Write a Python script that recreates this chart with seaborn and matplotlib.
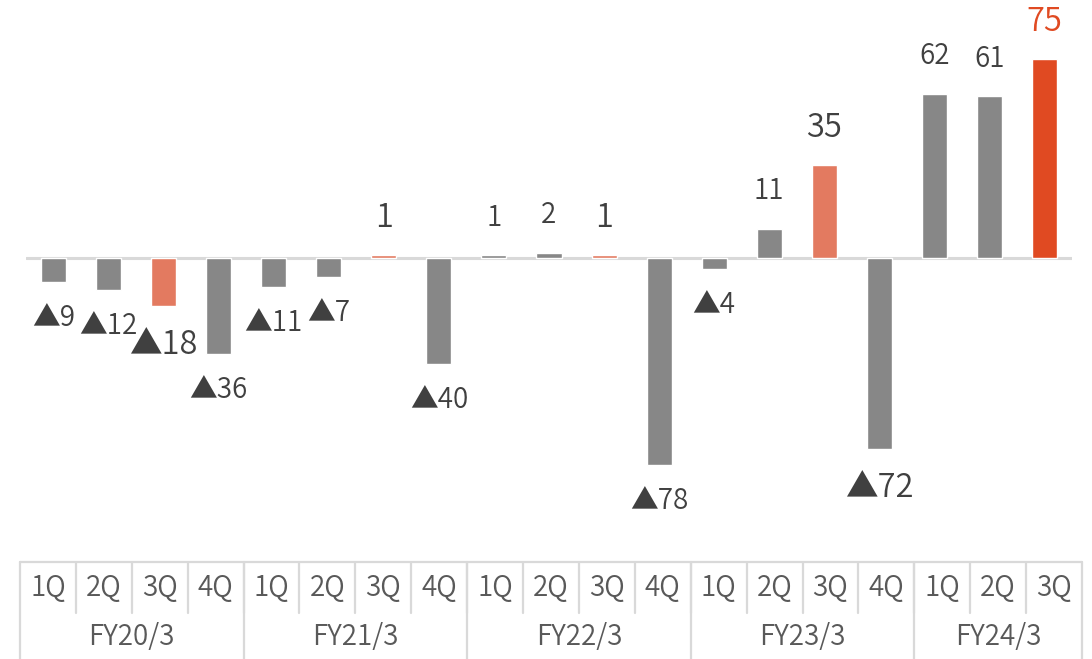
import matplotlib
matplotlib.use("Agg")
import matplotlib.pyplot as plt
import seaborn as sns
import pandas as pd
import numpy as np

# Quarterly operating result (hundred million yen); negatives shown with ▲
fiscal_years = ["FY20/3", "FY21/3", "FY22/3", "FY23/3", "FY24/3"]
quarters_per_year = [4, 4, 4, 4, 3]
quarter_labels = ["1Q", "2Q", "3Q", "4Q", "1Q", "2Q", "3Q", "4Q",
                  "1Q", "2Q", "3Q", "4Q", "1Q", "2Q", "3Q", "4Q",
                  "1Q", "2Q", "3Q"]
values = [-9, -12, -18, -36, -11, -7, 1, -40,
          1, 2, 1, -78, -4, 11, 35, -72,
          62, 61, 75]
# highlight group per bar: 0 = regular, 1 = third quarter, 2 = latest quarter
highlight = [0, 0, 1, 0, 0, 0, 1, 0,
             0, 0, 1, 0, 0, 0, 1, 0,
             0, 0, 2]
emphasis = [0, 0, 1, 0, 0, 0, 1, 0,
            0, 0, 1, 0, 0, 0, 1, 1,
            0, 0, 1]

GREY = "#878787"
SALMON = "#E37A60"
RED = "#E04A22"
TEXT = "#404040"
GRID = "#D9D9D9"
bar_colors = [GREY, SALMON, RED]

sns.set_theme(style="white")
plt.rcParams["font.family"] = ["Noto Sans CJK JP", "DejaVu Sans"]
plt.rcParams["font.weight"] = 350

W, H, DPI = 1092, 659, 100
fig = plt.figure(figsize=(W / DPI, H / DPI), dpi=DPI)

# main bar axes: pixel box 26..1072 horizontally, 0..545 vertically
ax = fig.add_axes([26 / W, (H - 545) / H, (1072 - 26) / W, 545 / H])
n = len(values)
df = pd.DataFrame({
    "pos": np.arange(n),
    "value": values,
    "color": [bar_colors[h] for h in highlight],
})
sns.barplot(data=df, x="pos", y="value", hue="pos",
            palette=list(df["color"]), width=0.455, legend=False,
            saturation=1, ax=ax, order=list(range(n)))
ax.set_xlim(-0.5, n - 0.5)
ax.set_ylim(-108.2, 97.3)
ax.axhline(0, color=GRID, lw=2.2, zorder=0)
ax.set_axis_off()

for i, v in enumerate(values):
    label = f"{v}" if v >= 0 else f"▲{abs(v)}"
    size = 23.5 if emphasis[i] else 20
    color = RED if highlight[i] == 2 else TEXT
    offset = 27 if v >= 0 else (-28 if emphasis[i] else -26)
    ax.annotate(label, (i, v), xytext=(0, offset), textcoords="offset points",
                ha="center", va="center", fontsize=size, color=color)

# category table below the bars
tx0, tx1 = 20, 1082
ty_top = 562
tab = fig.add_axes([tx0 / W, 0, (tx1 - tx0) / W, (H - ty_top) / H])
tab.set_xlim(0, n)
tab.set_ylim(H - ty_top, 0)  # pixel rows measured from the table top
tab.set_axis_off()
row_split = 51
lw = 1.6
tab.plot([0, n], [0, 0], color=GRID, lw=lw, clip_on=False)
# quarter cells
for i, q in enumerate(quarter_labels):
    tab.text(i + 0.5, 26, q, ha="center", va="center", fontsize=20, color="#595959")
for i in range(1, n):
    tab.plot([i, i], [0, row_split], color=GRID, lw=lw)
# fiscal-year cells
edges = np.concatenate([[0], np.cumsum(quarters_per_year)])
for k, fy in enumerate(fiscal_years):
    tab.text((edges[k] + edges[k + 1]) / 2, 75, fy, ha="center", va="center",
             fontsize=20, color="#595959")
for e in edges:
    tab.plot([e, e], [0, H - ty_top], color=GRID, lw=lw, clip_on=False)

fig.savefig("out.png", dpi=DPI, facecolor="white")
